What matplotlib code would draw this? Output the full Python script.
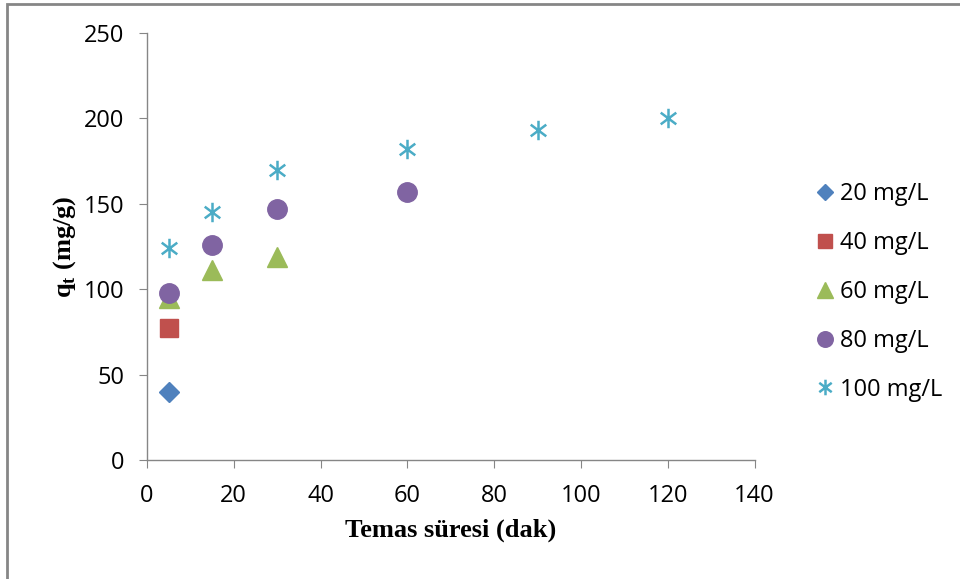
import matplotlib.pyplot as plt
from matplotlib.path import Path
from matplotlib.patches import Rectangle

# =========================
# DATA
# =========================
series_labels = ["20 mg/L", "40 mg/L", "60 mg/L", "80 mg/L", "100 mg/L"]

t_20 = [5]
q_20 = [40]

t_40 = [5]
q_40 = [77]

t_60 = [5, 15, 30]
q_60 = [95, 111, 119]

t_80 = [5, 15, 30, 60]
q_80 = [98, 126, 147, 157]

t_100 = [5, 15, 30, 60, 90, 120]
q_100 = [124, 145, 170, 182, 193, 200]

# Excel-style star marker: vertical stroke plus an X
star = Path(
    [(0, -1), (0, 1), (-0.8, -0.6), (0.8, 0.6), (-0.8, 0.6), (0.8, -0.6)],
    [Path.MOVETO, Path.LINETO, Path.MOVETO, Path.LINETO, Path.MOVETO, Path.LINETO],
)

fig = plt.figure(figsize=(9.6, 5.79), dpi=100)
ax = fig.add_axes([0.153, 0.2055, 0.633, 0.7375])

ax.plot(t_20, q_20, ls="none", marker="D", ms=10.5, color="#4F81BD", label=series_labels[0])
ax.plot(t_40, q_40, ls="none", marker="s", ms=13, color="#C0504D", label=series_labels[1])
ax.plot(t_60, q_60, ls="none", marker="^", ms=14, color="#9BBB59", label=series_labels[2])
ax.plot(t_80, q_80, ls="none", marker="o", ms=14, color="#8064A2", label=series_labels[3])
ax.plot(t_100, q_100, ls="none", marker=star, ms=14, mew=1.8, color="#4BACC6",
        fillstyle="none", label=series_labels[4])

ax.set_xlim(0, 140)
ax.set_ylim(0, 250)
ax.set_xticks(range(0, 141, 20))
ax.set_yticks(range(0, 251, 50))

for side in ["top", "right"]:
    ax.spines[side].set_visible(False)
for side in ["left", "bottom"]:
    ax.spines[side].set_color("#868686")
    ax.spines[side].set_linewidth(1)

ax.tick_params(axis="both", direction="out", length=6, color="#868686", labelsize=17)
ax.tick_params(axis="x", pad=11)
ax.tick_params(axis="y", pad=10)
for lbl in ax.get_xticklabels() + ax.get_yticklabels():
    lbl.set_family("Open Sans")

ax.set_xlabel("Temas süresi (dak)", family="Liberation Serif", fontweight="bold",
              fontsize=19, labelpad=8)
ax.set_ylabel(r"q$_\mathregular{t}$ (mg/g)", family="Liberation Serif", fontweight="bold",
              fontsize=19, labelpad=4)

leg = fig.legend(handles=ax.get_lines(), loc="center left",
                 bbox_to_anchor=(816 / 960, (579 - 292) / 579), frameon=False,
                 borderpad=0, borderaxespad=0, handletextpad=0.2, labelspacing=1.05,
                 handlelength=0.8, prop={"family": "Open Sans", "size": 17},
                 markerscale=0.8)

# outer chart frame (cropped on right and bottom)
fig.patches.append(Rectangle((7 / 960, -0.1), 1.2, 1.1 - 4 / 579,
                             transform=fig.transFigure, fill=False,
                             edgecolor="#868686", lw=2))

fig.savefig("out.png", dpi=100)
